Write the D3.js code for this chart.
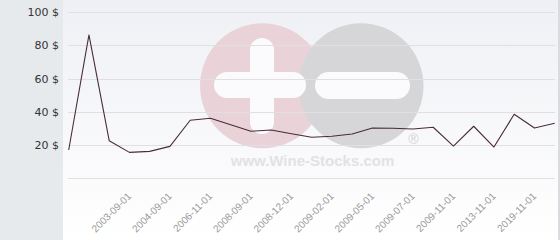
<!DOCTYPE html>
<html>
<head>
<meta charset="utf-8">
<script src="https://cdn.jsdelivr.net/npm/d3@7"></script>
<style>
  body { margin: 0; background: #fff; }
  svg { display: block; }
  .y-label { font-family: "DejaVu Sans", sans-serif; font-size: 11px; fill: #333; }
  .x-label { font-family: "Liberation Sans", Arial, sans-serif; font-size: 10px; fill: #9a9a9a; }
</style>
</head>
<body>
<div id="chart"></div>
<script>
// price per point (25 points)
var prices = [17.0, 86.2, 22.6, 15.6, 16.2, 19.2, 34.9, 36.1, 32.2, 28.3, 29.0, 26.8, 24.7,
              25.3, 26.6, 30.2, 30.1, 29.6, 30.7, 19.4, 31.3, 18.8, 38.5, 30.2, 33.1];
// only every other category carries a label
var tickIndex = [3, 5, 7, 9, 11, 13, 15, 17, 19, 21, 23];
var tickLabels = ["2003-09-01", "2004-09-01", "2006-11-01", "2008-09-01", "2008-12-01",
                  "2009-02-01", "2009-05-01", "2009-07-01", "2009-11-01", "2013-11-01", "2019-11-01"];
var yTicks = [20, 40, 60, 80, 100];
var gridValues = [0, 20, 40, 60, 80, 100];

var width = 560, height = 240;

var svg = d3.select("#chart").append("svg")
    .attr("width", width)
    .attr("height", height);

var x = d3.scalePoint()
    .domain(d3.range(prices.length))
    .range([68.7, 554.7]);

var y = d3.scaleLinear()
    .domain([0, 100])
    .range([178.3, 12.0]);

//backgrounds
var grad = svg.append("defs").append("linearGradient")
    .attr("id", "plotBg")
    .attr("x1", 0).attr("y1", 0).attr("x2", 0).attr("y2", 1);
grad.append("stop").attr("offset", "0%").attr("stop-color", "#eff0f5");
grad.append("stop").attr("offset", "100%").attr("stop-color", "#ffffff");

svg.append("rect")
    .attr("x", 0).attr("y", 0)
    .attr("width", 63).attr("height", height)
    .attr("fill", "#e6eaed");

svg.append("rect")
    .attr("x", 63).attr("y", 0)
    .attr("width", 495).attr("height", height)
    .attr("fill", "url(#plotBg)");

svg.append("rect")
    .attr("x", 558).attr("y", 0)
    .attr("width", 2).attr("height", height)
    .attr("fill", "#d9dbe0");

//watermark
var wm = svg.append("g").attr("class", "watermark");
wm.append("circle").attr("cx", 262.5).attr("cy", 85.8).attr("r", 62.5).attr("fill", "#e9d3d9");
wm.append("circle").attr("cx", 361).attr("cy", 85.8).attr("r", 62.5).attr("fill", "#d6d6d8");
// plus
wm.append("rect").attr("x", 250).attr("y", 38).attr("width", 24).attr("height", 96)
    .attr("rx", 12).attr("fill", "#fbfbfd");
wm.append("rect").attr("x", 214).attr("y", 72).attr("width", 92).attr("height", 26)
    .attr("rx", 13).attr("fill", "#fbfbfd");
// minus
wm.append("rect").attr("x", 315).attr("y", 72).attr("width", 95).attr("height", 27)
    .attr("rx", 13.5).attr("fill", "#fbfbfd");
wm.append("text")
    .attr("x", 413.5).attr("y", 144)
    .attr("text-anchor", "middle")
    .style("font-family", "Liberation Sans, Arial, sans-serif")
    .style("font-size", "14px")
    .attr("fill", "#d2d2d4")
    .text("®");
wm.append("text")
    .attr("x", 312.5).attr("y", 165.5)
    .attr("text-anchor", "middle")
    .style("font-family", "Liberation Sans, Arial, sans-serif")
    .style("font-size", "15px")
    .style("font-weight", "bold")
    .attr("fill", "#e2e2e4")
    .text("www.Wine-Stocks.com");

//gridlines
svg.append("g").selectAll("line")
    .data(gridValues)
    .enter().append("line")
    .attr("x1", 68).attr("x2", 555)
    .attr("y1", d => Math.round(y(d)) + 0.5)
    .attr("y2", d => Math.round(y(d)) + 0.5)
    .attr("stroke", "#e0e0e2")
    .attr("stroke-width", 1);

//y axis
var yAxis = svg.append("g")
    .attr("transform", "translate(59,0)")
    .call(d3.axisLeft(y).tickValues(yTicks).tickFormat(d => d + " $").tickSize(0).tickPadding(0));
yAxis.select(".domain").remove();
yAxis.attr("font-family", null).attr("font-size", null);
yAxis.selectAll("text")
    .attr("class", "y-label")
    .attr("fill", null);

//x axis
var xAxis = svg.append("g")
    .attr("transform", "translate(0," + y(0) + ")")
    .call(d3.axisBottom(x).tickValues(tickIndex).tickFormat((d, i) => tickLabels[i]).tickSize(0));
xAxis.select(".domain").remove();
xAxis.attr("font-family", null).attr("font-size", null);
xAxis.selectAll("text")
    .attr("class", "x-label")
    .attr("fill", null)
    .attr("x", 0).attr("y", 0).attr("dy", null)
    .attr("text-anchor", "end")
    .attr("transform", "translate(2,18.5) rotate(-45)");

//price line
var line = d3.line()
    .x((d, i) => x(i))
    .y(d => y(d));

svg.append("path")
    .datum(prices)
    .attr("d", line)
    .attr("fill", "none")
    .attr("stroke", "#4a2b3a")
    .attr("stroke-width", 1.1)
    .attr("stroke-linejoin", "round");
</script>
</body>
</html>
